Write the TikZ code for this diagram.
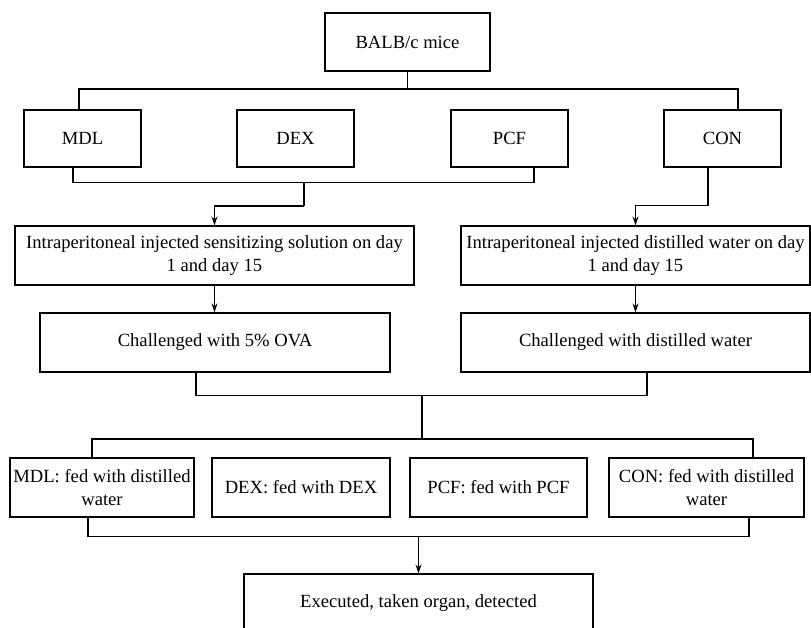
\documentclass[tikz,border=0pt]{standalone}
\usepackage{fontspec}
\setmainfont{Liberation Serif}
\usetikzlibrary{arrows.meta,calc}
\begin{document}
\begin{tikzpicture}[x=1pt,y=-1pt,
  box/.style={draw=black,line width=1.1pt,inner sep=0pt,align=center,
    font=\fontsize{18.6}{23}\selectfont},
  conn/.style={line width=1.1pt},
  arr/.style={line width=1.1pt,-{Stealth[length=9pt,width=6pt]}}]
\useasboundingbox (0,0) rectangle (811,628);
\clip (0,0) rectangle (811,628);
% nodes
\node[box,minimum width=165pt,minimum height=58pt] (balb) at (407.5,42) {BALB/c mice};
\node[box,minimum width=117pt,minimum height=57pt] (mdl1) at (82.5,138.5) {MDL};
\node[box,minimum width=117pt,minimum height=57pt] (dex1) at (295.5,138.5) {DEX};
\node[box,minimum width=117pt,minimum height=57pt] (pcf1) at (509.5,138.5) {PCF};
\node[box,minimum width=117pt,minimum height=57pt] (con1) at (722.5,138.5) {CON};
\node[box,minimum width=399pt,minimum height=59pt] (inj1) at (214.5,255.5) {Intraperitoneal injected sensitizing solution on day\\1 and day 15};
\node[box,minimum width=349pt,minimum height=59pt] (inj2) at (635.5,255.5) {Intraperitoneal injected distilled water on day\\1 and day 15};
\node[box,minimum width=350pt,minimum height=59pt] (ch1) at (215,342.5) {Challenged with 5\% OVA};
\node[box,minimum width=349pt,minimum height=59pt] (ch2) at (635.5,342.5) {Challenged with distilled water};
\node[box,minimum width=184pt,minimum height=59pt] (fed1) at (102,487.5) {MDL: fed with distilled\\water};
\node[box,minimum width=178pt,minimum height=59pt] (fed2) at (301,487.5) {DEX: fed with DEX};
\node[box,minimum width=177pt,minimum height=59pt] (fed3) at (498.5,487.5) {PCF: fed with PCF};
\node[box,minimum width=195pt,minimum height=59pt] (fed4) at (706.5,487.5) {CON: fed with distilled\\water};
\node[box,minimum width=349pt,minimum height=59pt] (exec) at (418.5,603.5) {Executed, taken organ, detected};
% junctions
\coordinate (j1) at (407.5,89);
\coordinate (j2) at (304,182);
\coordinate (j3) at (304,206);
\coordinate (j5) at (422,395);
\coordinate (j6) at (422,439);
\coordinate (j7) at (418.5,536);
% connectors
\draw[conn] (balb.south) -- (j1);
\draw[conn] (j1) -| ($(mdl1.north)+(-3.5,0)$);
\draw[conn] (j1) -| ($(con1.north)+(15.5,0)$);
\draw[conn] ($(mdl1.south)+(-9.5,0)$) |- ($(pcf1.south)+(24.5,15)$) -- ($(pcf1.south)+(24.5,0)$);
\draw[conn] (j2) -- (j3);
\draw[arr] (j3) -| (inj1.north);
\draw[arr] ($(con1.south)+(-14.5,0)$) |- ($(inj2.north)+(0,-20)$) -- (inj2.north);
\draw[arr] (inj1.south) -- (inj1.south |- ch1.north);
\draw[arr] (inj2.south) -- (ch2.north);
\draw[conn] ($(ch1.south)+(-19,0)$) |- ($(ch2.south)+(11.5,23)$) -- ($(ch2.south)+(11.5,0)$);
\draw[conn] (j5) -- (j6);
\draw[conn] (j6) -| ($(fed1.north)+(-10,0)$);
\draw[conn] (j6) -| ($(fed4.north)+(46.5,0)$);
\draw[conn] ($(fed1.south)+(-14,0)$) |- ($(fed4.south)+(42.5,19)$) -- ($(fed4.south)+(42.5,0)$);
\draw[arr] (j7) -- (exec.north);
\end{tikzpicture}
\end{document}
